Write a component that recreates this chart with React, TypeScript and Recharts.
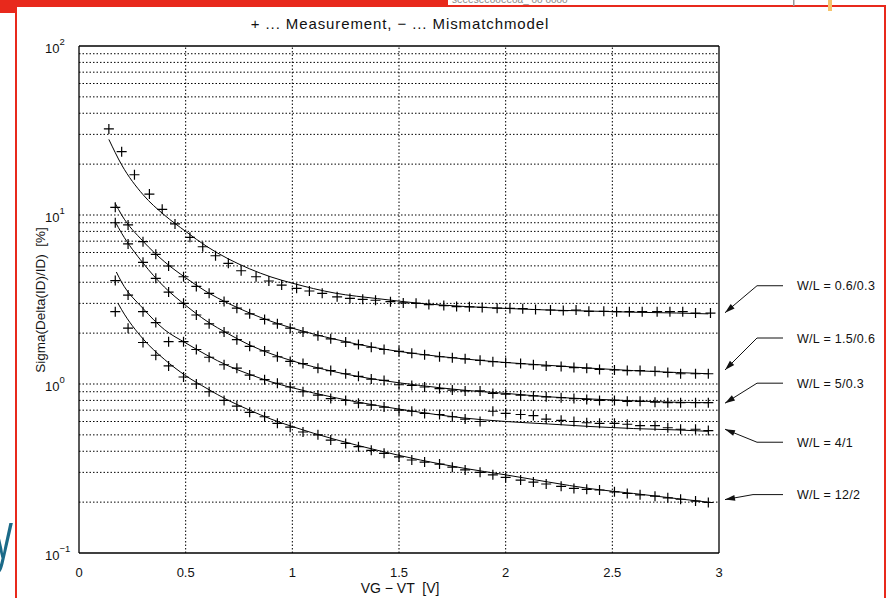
import React from "react";
import { ComposedChart, Line, Scatter, XAxis, YAxis, ReferenceLine, ReferenceDot } from "recharts";

// ---------- data ----------
const meas1X = [0.14, 0.2, 0.26, 0.33, 0.39, 0.45, 0.52, 0.58, 0.64, 0.7, 0.76, 0.83, 0.89, 0.95, 1.02, 1.08, 1.14, 1.21, 1.27, 1.33, 1.39, 1.46, 1.52, 1.58, 1.64, 1.71, 1.77, 1.83, 1.89, 1.96, 2.02, 2.08, 2.14, 2.21, 2.27, 2.33, 2.39, 2.46, 2.52, 2.58, 2.64, 2.71, 2.77, 2.83, 2.89, 2.96];
const measX = [0.17, 0.23, 0.3, 0.36, 0.42, 0.49, 0.55, 0.61, 0.68, 0.74, 0.8, 0.87, 0.93, 0.99, 1.05, 1.12, 1.18, 1.25, 1.31, 1.37, 1.43, 1.5, 1.56, 1.62, 1.69, 1.75, 1.81, 1.88, 1.94, 2.0, 2.07, 2.13, 2.19, 2.26, 2.32, 2.38, 2.44, 2.51, 2.57, 2.63, 2.7, 2.76, 2.82, 2.89, 2.95];

const meas06_03 = [32.3, 23.7, 17.3, 13.3, 10.8, 8.85, 7.38, 6.49, 5.74, 5.18, 4.68, 4.31, 4.07, 3.85, 3.68, 3.55, 3.44, 3.28, 3.21, 3.17, 3.13, 3.07, 3.02, 3.0, 2.95, 2.91, 2.87, 2.86, 2.84, 2.81, 2.8, 2.79, 2.76, 2.74, 2.72, 2.74, 2.69, 2.69, 2.68, 2.68, 2.68, 2.68, 2.68, 2.68, 2.63, 2.63];
const meas15_06 = [11.1, 8.73, 6.95, 5.85, 4.99, 4.31, 3.78, 3.44, 3.08, 2.81, 2.6, 2.41, 2.27, 2.14, 2.03, 1.93, 1.85, 1.77, 1.71, 1.65, 1.6, 1.56, 1.52, 1.49, 1.45, 1.43, 1.41, 1.38, 1.355, 1.34, 1.32, 1.3, 1.28, 1.27, 1.25, 1.24, 1.22, 1.21, 1.2, 1.2, 1.19, 1.17, 1.15, 1.15, 1.15];
const meas5_03 = [9.0, 6.74, 5.25, 4.22, 3.5, 3.0, 2.56, 2.27, 2.03, 1.83, 1.67, 1.57, 1.45, 1.36, 1.32, 1.24, 1.2, 1.15, 1.11, 1.07, 1.05, 0.99, 0.98, 0.96, 0.94, 0.92, 0.91, 0.91, 0.88, 0.87, 0.86, 0.85, 0.84, 0.83, 0.82, 0.81, 0.8, 0.8, 0.79, 0.79, 0.78, 0.775, 0.775, 0.775, 0.775];
const meas4_1 = [4.09, 3.36, 2.68, 2.31, 1.78, 1.78, 1.6, 1.44, 1.3, 1.24, 1.13, 1.06, 1.01, 0.96, 0.9, 0.86, 0.82, 0.8, 0.77, 0.75, 0.73, 0.7, 0.69, 0.67, 0.66, 0.64, 0.62, 0.6, 0.69, 0.67, 0.66, 0.65, 0.62, 0.61, 0.6, 0.59, 0.585, 0.585, 0.578, 0.567, 0.567, 0.551, 0.54, 0.54, 0.53];
const meas12_2 = [2.68, 2.14, 1.76, 1.48, 1.28, 1.1, 1.0, 0.9, 0.8, 0.74, 0.68, 0.64, 0.585, 0.555, 0.52, 0.5, 0.466, 0.445, 0.426, 0.405, 0.389, 0.37, 0.355, 0.345, 0.336, 0.322, 0.31, 0.3, 0.29, 0.28, 0.27, 0.263, 0.256, 0.248, 0.241, 0.238, 0.236, 0.23, 0.225, 0.221, 0.217, 0.212, 0.208, 0.203, 0.199];

const modelX = [0.2, 0.3, 0.4, 0.5, 0.6, 0.7, 0.8, 0.9, 1.0, 1.2, 1.4, 1.6, 1.8, 2.0, 2.2, 2.4, 2.6, 2.8, 2.95];
const modelStartX = [0.14, 0.17, 0.17, 0.175, 0.183];
const model06_03 = [28, 19.8, 13.2, 10.0, 8.0, 6.5, 5.5, 4.8, 4.3, 3.95, 3.45, 3.2, 3.0, 2.88, 2.8, 2.74, 2.7, 2.66, 2.63, 2.6];
const model15_06 = [11.7, 10.0, 7.0, 5.3, 4.25, 3.5, 3.0, 2.63, 2.35, 2.14, 1.84, 1.63, 1.5, 1.41, 1.34, 1.29, 1.24, 1.2, 1.17, 1.15];
const model5_03 = [9.1, 7.8, 5.2, 3.75, 2.92, 2.35, 1.98, 1.7, 1.51, 1.37, 1.18, 1.06, 0.98, 0.92, 0.88, 0.84, 0.815, 0.795, 0.78, 0.775];
const model4_1 = [4.6, 4.0, 2.8, 2.1, 1.75, 1.48, 1.28, 1.14, 1.03, 0.95, 0.83, 0.745, 0.68, 0.63, 0.6, 0.58, 0.56, 0.545, 0.535, 0.525];
const model12_2 = [3.0, 2.75, 1.85, 1.4, 1.12, 0.94, 0.8, 0.7, 0.62, 0.56, 0.47, 0.405, 0.355, 0.318, 0.29, 0.263, 0.24, 0.225, 0.21, 0.2];

const curveLabels = ["W/L = 0.6/0.3", "W/L = 1.5/0.6", "W/L = 5/0.3", "W/L = 4/1", "W/L = 12/2"];
const arrowTargets = [2.64, 1.21, 0.77, 0.54, 0.207];
const labelDy = [-27, -32, -20, 13, -5];

const xTicks = [0, 0.5, 1, 1.5, 2, 2.5, 3];
const xTickLabels = ["0", "0.5", "1", "1.5", "2", "2.5", "3"];
const yTicks = [0.1, 1, 10, 100];
const yTickExp = ["\u22121", "0", "1", "2"];
const xGrid = [0.5, 1, 1.5, 2, 2.5];
const yGrid = [0.2, 0.3, 0.4, 0.5, 0.6, 0.7, 0.8, 0.9, 1, 2, 3, 4, 5, 6, 7, 8, 9, 10, 20, 30, 40, 50, 60, 70, 80, 90];

const title = "+ ... Measurement, \u2212 ... Mismatchmodel";
const xTitle = "VG \u2212 VT  [V]";
const yTitle = "Sigma(Delta(ID)/ID)  [%]";

// ---------- build ----------
const measSets = [
  meas1X.map((x, i) => ({ x, y: meas06_03[i] })),
  measX.map((x, i) => ({ x, y: meas15_06[i] })),
  measX.map((x, i) => ({ x, y: meas5_03[i] })),
  measX.map((x, i) => ({ x, y: meas4_1[i] })),
  measX.map((x, i) => ({ x, y: meas12_2[i] })),
];
const modelVals = [model06_03, model15_06, model5_03, model4_1, model12_2];
const modelSets = modelVals.map((vals, k) =>
  [modelStartX[k], ...modelX].map((x, i) => ({ x, y: vals[i] }))
);

const FONT = "'Liberation Sans', Arial, Helvetica, sans-serif";
const DOT = "1.5 2";

const Plus = (props: any) => {
  const { cx, cy } = props;
  if (cx == null || cy == null) return null;
  return (
    <path d={`M${cx - 5},${cy}h10M${cx},${cy - 5}v10`} stroke="#000" strokeWidth={1.2} fill="none" />
  );
};

const XTick = (props: any) => {
  const { x, y, payload, index } = props;
  const i = xTicks.indexOf(payload.value);
  return (
    <text x={x} y={y + 24} textAnchor="middle" fontFamily={FONT} fontSize={13} fill="#111">
      {xTickLabels[i >= 0 ? i : index]}
    </text>
  );
};

const YTick = (props: any) => {
  const { x, y, payload } = props;
  const i = yTicks.indexOf(payload.value);
  return (
    <g>
      <text x={x - 34} y={y + 7} fontFamily={FONT} fontSize={13} fill="#111">
        10
        <tspan dy={-8} fontSize={9.5}>{yTickExp[i]}</tspan>
      </text>
    </g>
  );
};

const makeArrow = (k: number) => (props: any) => {
  const { cx, cy } = props;
  if (cx == null || cy == null) return null;
  const tipX = cx + 6;
  const ly = cy + labelDy[k];
  const elbowX = cx + (k === 4 ? 34 : 38);
  const endX = cx + 64;
  const dx = elbowX - tipX;
  const dy = ly - cy;
  const len = Math.sqrt(dx * dx + dy * dy);
  const ux = dx / len;
  const uy = dy / len;
  const hl = 10;
  const hw = 3;
  const bx = tipX + ux * hl;
  const by = cy + uy * hl;
  return (
    <g>
      <path d={`M${tipX},${cy}L${elbowX},${ly}L${endX},${ly}`} stroke="#111" strokeWidth={1} fill="none" />
      <path
        d={`M${tipX},${cy}L${bx - uy * hw},${by + ux * hw}L${bx + uy * hw},${by - ux * hw}Z`}
        fill="#111"
      />
      <text x={cx + 78} y={ly + 4.5} fontFamily={FONT} fontSize={12.5} fill="#111" letterSpacing={0.3} style={{ whiteSpace: "pre" }}>
        {curveLabels[k]}
      </text>
    </g>
  );
};

export default function App() {
  return (
    <div style={{ position: "absolute", left: 0, top: 0, width: 888, height: 598, background: "#fff", overflow: "hidden" }}>
      <div style={{ position: "absolute", left: 0, top: 0 }}>
        <ComposedChart width={888} height={598} margin={{ top: 46, right: 169, bottom: 0, left: 0 }}>
          <XAxis
            type="number"
            dataKey="x"
            domain={[0, 3]}
            ticks={xTicks}
            allowDataOverflow
            height={45}
            tickSize={0}
            tickMargin={0}
            tick={<XTick />}
            axisLine={{ stroke: "#000", strokeWidth: 1.3 }}
            tickLine={false}
            interval={0}
          />
          <YAxis
            type="number"
            dataKey="y"
            scale="log"
            domain={[0.1, 100]}
            ticks={yTicks}
            allowDataOverflow
            width={79}
            tickSize={0}
            tickMargin={0}
            tick={<YTick />}
            axisLine={{ stroke: "#000", strokeWidth: 1.3 }}
            tickLine={false}
            interval={0}
          />
          {yGrid.map((v) => (
            <ReferenceLine key={"gy" + v} y={v} stroke="#000" strokeWidth={1} strokeDasharray={DOT} />
          ))}
          {xGrid.map((v) => (
            <ReferenceLine key={"gx" + v} x={v} stroke="#000" strokeWidth={1} strokeDasharray={DOT} />
          ))}
          <ReferenceLine y={100} stroke="#000" strokeWidth={1.3} />
          <ReferenceLine x={3} stroke="#000" strokeWidth={1.3} />
          {modelSets.map((d, k) => (
            <Line
              key={"m" + k}
              data={d}
              dataKey="y"
              type="monotone"
              stroke="#000"
              strokeWidth={1}
              dot={false}
              activeDot={false}
              isAnimationActive={false}
            />
          ))}
          {measSets.map((d, k) => (
            <Scatter key={"s" + k} data={d} dataKey="y" shape={<Plus />} isAnimationActive={false} />
          ))}
          {arrowTargets.map((v, k) => (
            <ReferenceDot key={"a" + k} x={3} y={v} r={0} ifOverflow="visible" shape={makeArrow(k)} />
          ))}
        </ComposedChart>
      </div>
      <svg width={888} height={598} style={{ position: "absolute", left: 0, top: 0, pointerEvents: "none" }}>
        {/* frame artifacts */}
        <text x={0} y={0} transform="translate(-7,558) scale(0.6,1)" fontFamily="'Open Sans', sans-serif" fontSize={66} fill="#1b6a88">y</text>
        <rect x={17} y={500} width={10} height={98} fill="#fff" />
        <rect x={0} y={0} width={448} height={7} fill="#e8291c" />
        <rect x={0} y={0} width={16} height={13} fill="#e8291c" />
        <rect x={15} y={0} width={2} height={598} fill="#e8291c" />
        <rect x={448} y={5} width={438} height={2} fill="#e8291c" />
        <rect x={884} y={5} width={2} height={593} fill="#e8291c" />
        <rect x={793} y={0} width={1.5} height={6} fill="#999" />
        <rect x={828} y={0} width={4} height={11} fill="#f6c36a" />
        <text x={452} y={3} fontFamily={FONT} fontSize={10} fill="#8a8a8a">seeeseeooeeoa_  oo  oooo</text>
        {/* titles */}
        <text x={400} y={29} textAnchor="middle" fontFamily={FONT} fontSize={15} letterSpacing={0.9} fill="#111" style={{ whiteSpace: "pre" }}>
          {title}
        </text>
        <text x={400} y={593} textAnchor="middle" fontFamily={FONT} fontSize={14} fill="#111" style={{ whiteSpace: "pre" }}>
          {xTitle}
        </text>
        <text
          x={0}
          y={0}
          transform="translate(45,300) rotate(-90)"
          textAnchor="middle"
          fontFamily={FONT}
          fontSize={13.5}
          fill="#111"
          style={{ whiteSpace: "pre" }}
        >
          {yTitle}
        </text>
      </svg>
    </div>
  );
}
